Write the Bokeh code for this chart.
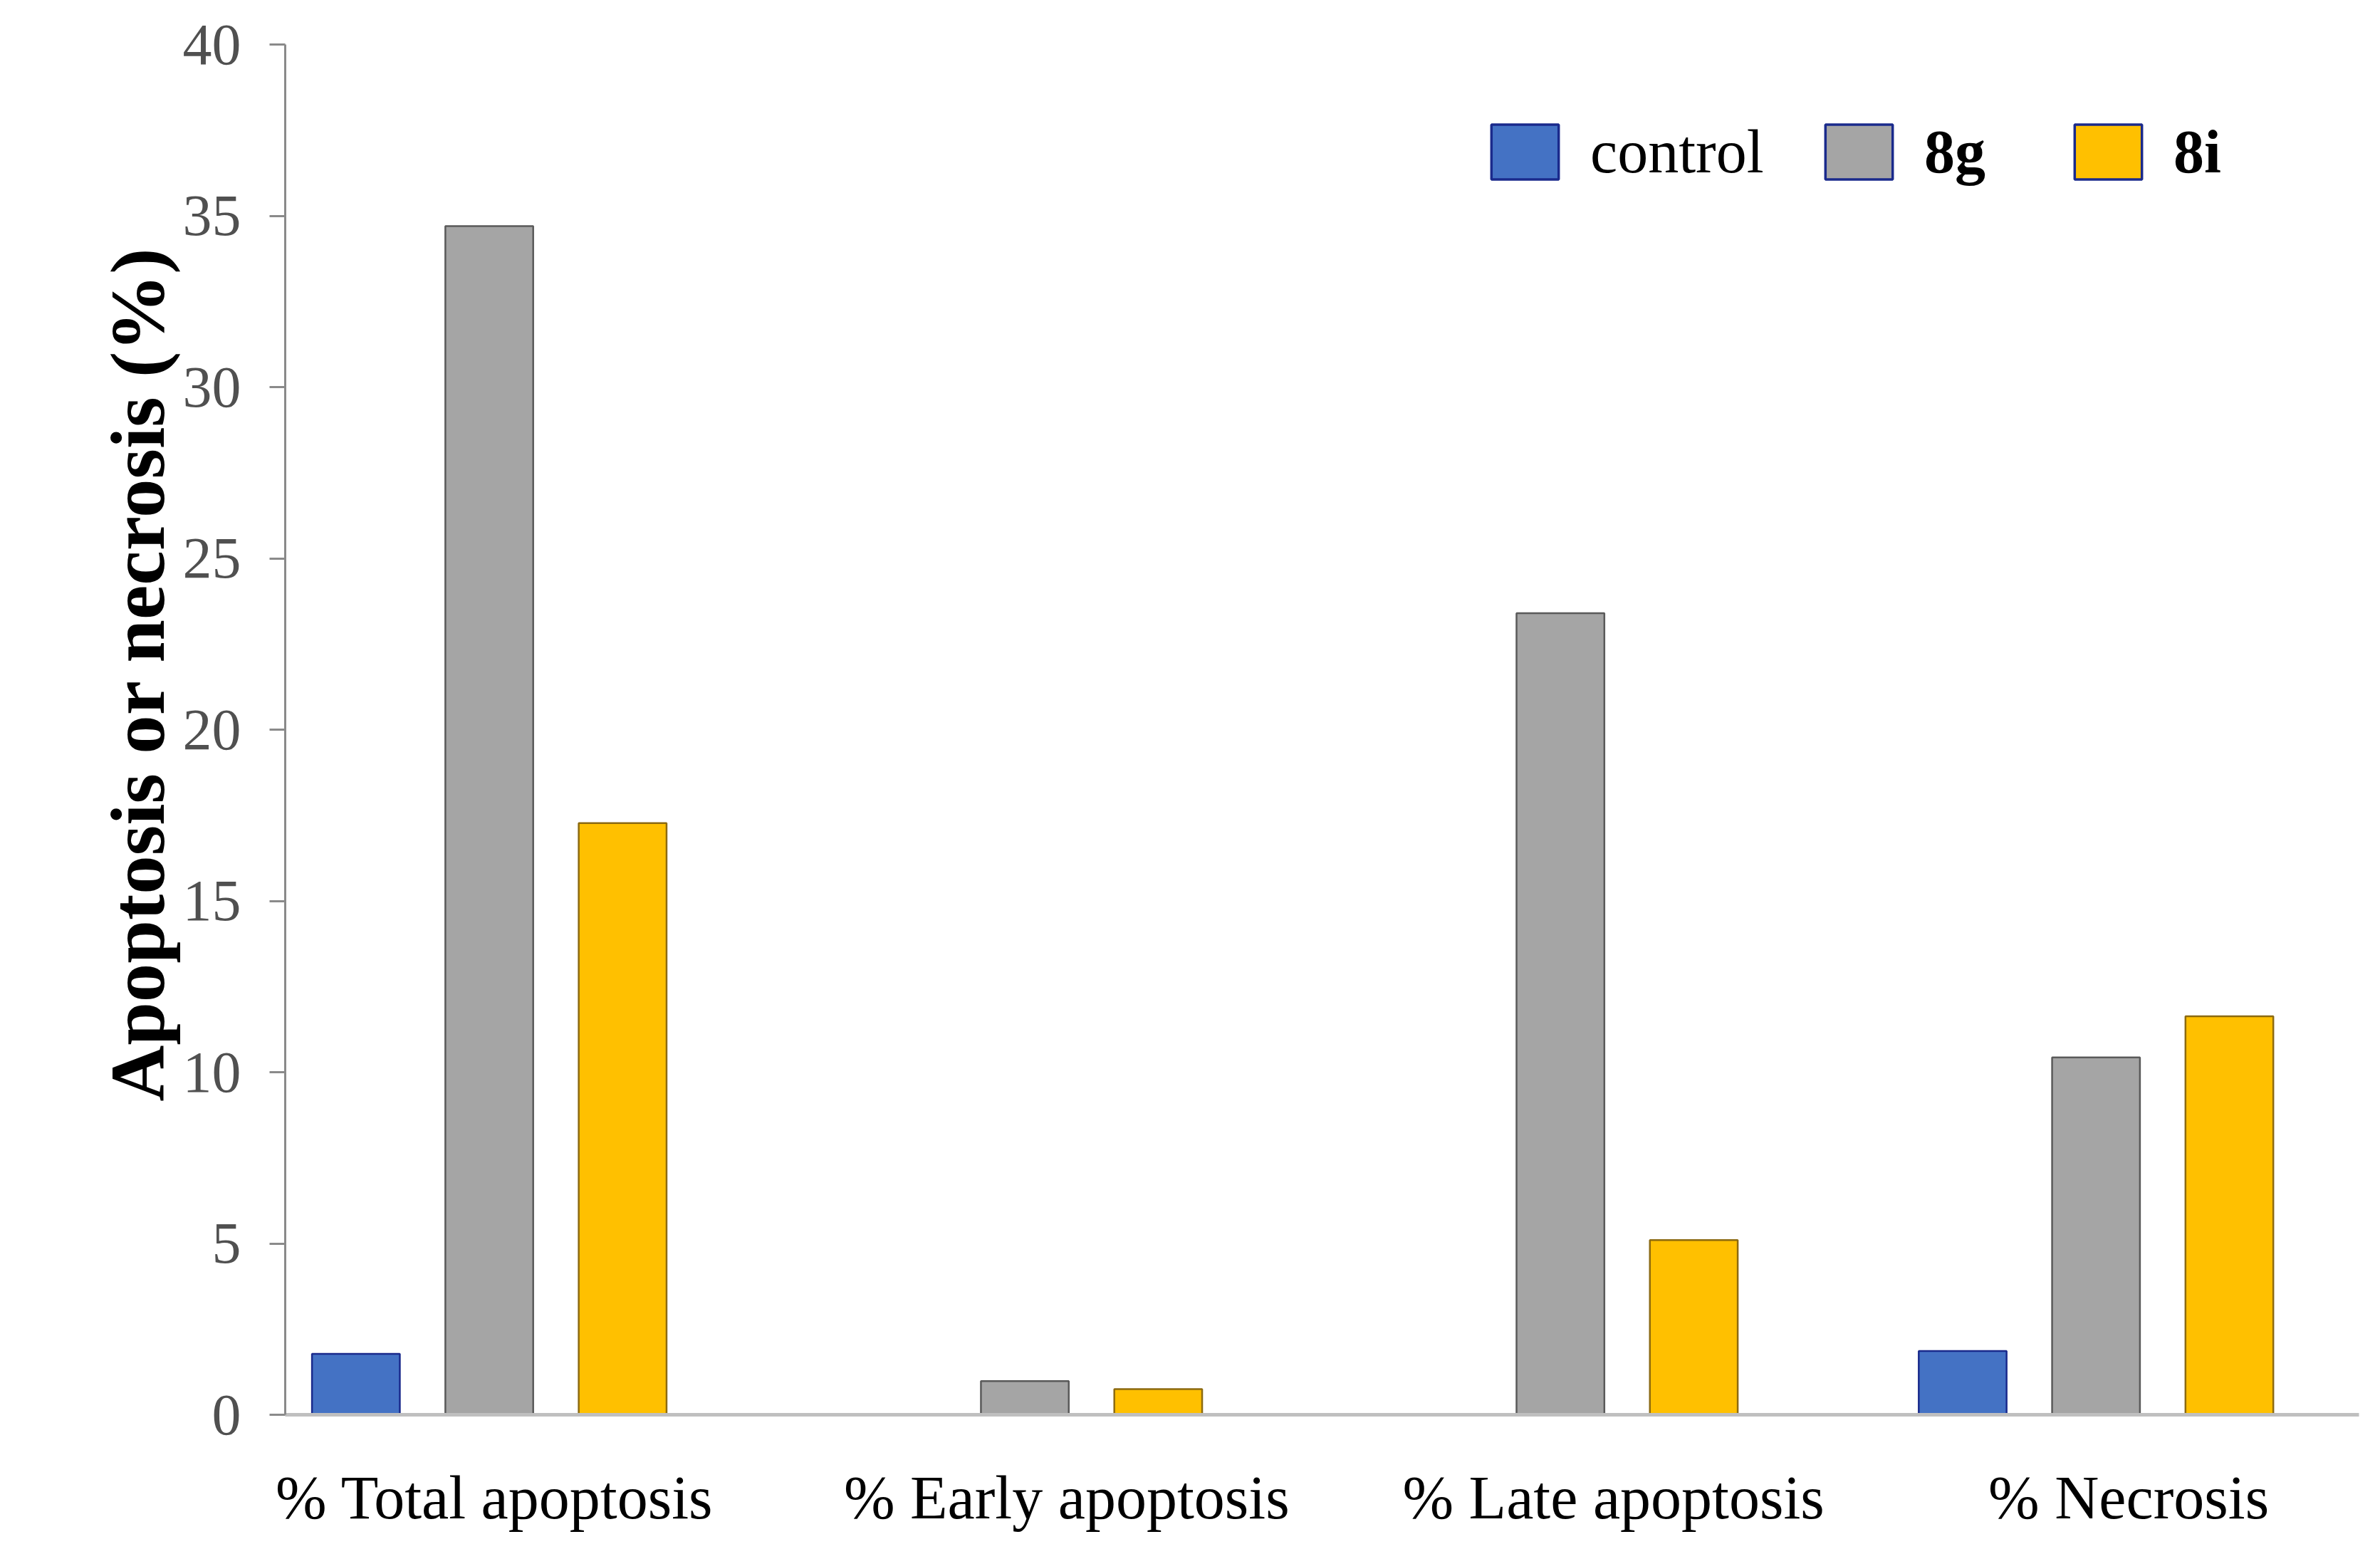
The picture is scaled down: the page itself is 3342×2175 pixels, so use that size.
import numpy as np
from bokeh.plotting import figure
from bokeh.models import (ColumnDataSource, FixedTicker, Legend, LegendItem,
                          Range1d, Title, LinearAxis)
from bokeh.embed import file_html
from bokeh.resources import INLINE

# ---- data ----
categories = ["% Total apoptosis", "% Early apoptosis", "% Late apoptosis", "% Necrosis"]
series_names = ["control", "8g", "8i"]
control_vals = [1.78, 0.0, 0.0, 1.86]
g8_vals = [34.7, 0.98, 23.4, 10.43]
i8_vals = [17.27, 0.75, 5.1, 11.63]
y_ticks = [0, 5, 10, 15, 20, 25, 30, 35, 40]
y_title = "Apoptosis or necrosis (%)"

# ---- style / layout ----
FONT = "Liberation Serif"
fills = ["#4472C4", "#A5A5A5", "#FFC000"]
lines = ["#1A2A8C", "#5A5A5A", "#8C6A10"]
legend_line = "#1A2A8C"
offsets = [-0.249, 0.0, 0.249]
bar_w = 0.164
label_shift = [0.01, 0.078, 0.099, 0.061]

W, H = 3326, 2159
p = figure(width=W, height=H, output_backend="svg", toolbar_location=None,
           x_range=Range1d(-0.381, 3.491), y_range=Range1d(0, 40),
           min_border_left=400, min_border_right=14, min_border_top=62,
           min_border_bottom=173)
p.outline_line_color = None
p.grid.visible = False
p.background_fill_color = "white"

gx = np.arange(len(categories))
renderers = []
for vals, off, fc, lc in zip([control_vals, g8_vals, i8_vals], offsets, fills, lines):
    src = ColumnDataSource(dict(x=gx + off, top=vals))
    p.vbar(x="x", top="top", bottom=0, width=bar_w, source=src,
           fill_color=fc, line_color=lc, line_width=2.5)
    # legend proxy (no drawable row) carrying the navy outline of the reference legend
    lr = p.vbar(x="x", top="top", bottom=0, width=bar_w,
                source=ColumnDataSource(dict(x=[float("nan")], top=[float("nan")])),
                fill_color=fc, line_color=legend_line, line_width=3.5)
    renderers.append(lr)

# x axis
ticks_x = [float(t) for t in gx + np.array(label_shift)]
xa = p.xaxis[0]
xa.ticker = FixedTicker(ticks=ticks_x)
xa.major_label_overrides = {t: c for t, c in zip(ticks_x, categories)}
xa.major_tick_line_color = None
xa.minor_tick_line_color = None
xa.axis_line_color = "#BFBFBF"
xa.axis_line_width = 5
xa.major_label_text_font = FONT
xa.major_label_text_font_size = "86px"
xa.major_label_text_color = "#000000"
xa.major_label_standoff = 62

# y axis
ya = p.yaxis[0]
ya.ticker = FixedTicker(ticks=y_ticks)
ya.axis_line_color = "#8A8A8A"
ya.axis_line_width = 3
ya.major_tick_line_color = "#8A8A8A"
ya.major_tick_line_width = 3
ya.major_tick_out = 22
ya.major_tick_in = 0
ya.minor_tick_line_color = None
ya.major_label_text_font = FONT
ya.major_label_text_font_size = "82px"
ya.major_label_text_color = "#505050"
ya.major_label_standoff = 40

# empty spacer axis (no ticks drawn): pushes the y title further out to the left
spacer = LinearAxis(ticker=FixedTicker(ticks=[]), axis_line_color=None,
                    major_tick_line_color="white", minor_tick_line_color=None,
                    major_tick_out=120, major_tick_in=0, minor_tick_out=0,
                    minor_tick_in=0, major_label_standoff=0)
p.add_layout(spacer, "left")

p.add_layout(Title(text=y_title, align="left", offset=440, standoff=0,
                   text_font=FONT, text_font_style="bold",
                   text_font_size="109px", text_color="#000000"), "left")

# legends (one per item, to allow bold for 8g / 8i)
leg_pos = [(1682, 1723), (2151, 1723), (2501, 1723)]
for r, name, pos in zip(renderers, series_names, leg_pos):
    lg = Legend(items=[LegendItem(label=name, renderers=[r])], location=pos,
                orientation="horizontal", glyph_width=118, glyph_height=96,
                label_standoff=33, padding=0, margin=0, spacing=0,
                border_line_color=None, background_fill_alpha=0,
                label_text_font=FONT, label_text_font_size="86px",
                label_text_font_style="normal" if name == "control" else "bold",
                label_text_color="#000000", label_height=77,
                label_text_baseline="middle")
    p.add_layout(lg, "center")

open("out.html", "w").write(file_html(p, INLINE))
